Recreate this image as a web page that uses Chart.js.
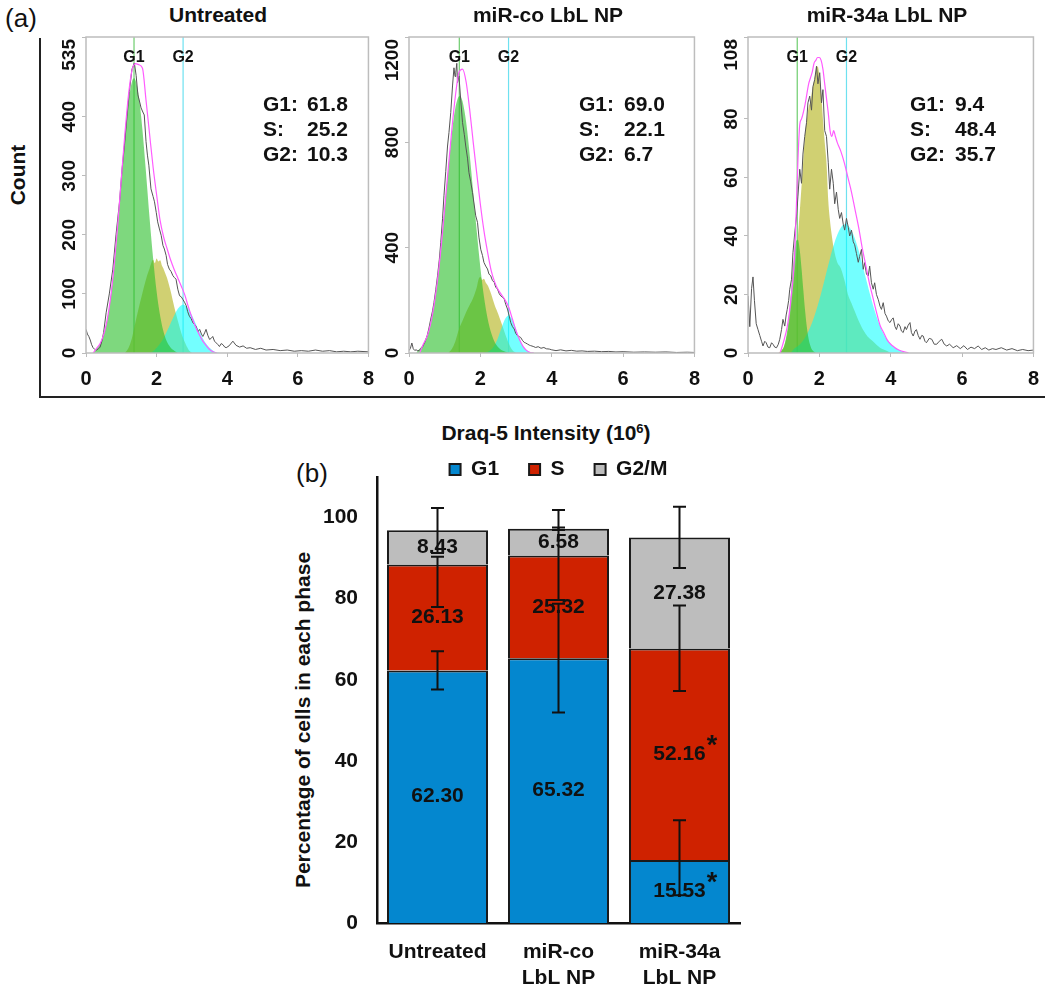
<!DOCTYPE html>
<html>
<head>
<meta charset="utf-8">
<script src="https://cdn.jsdelivr.net/npm/chart.js"></script>
<style>
  body { margin: 0; width: 1050px; height: 988px; background: #fff; position: relative; overflow: hidden;
         font-family: "Liberation Sans", Arial, sans-serif; color: #111; }
  canvas { position: absolute; }
  .t { position: absolute; white-space: nowrap; font-weight: bold; font-size: 21px; line-height: 1;
       transform: translate(-50%, -50%); }
  .rot { transform: translate(-50%, -50%) rotate(-90deg); }
  .panel { font-weight: normal; font-size: 26px; }
  .stats { position: absolute; font-weight: bold; font-size: 21px; line-height: 25px; white-space: nowrap; }
  #frameA { position: absolute; left: 39px; top: 38px; width: 1004px; height: 358px;
            border-left: 2px solid #222; border-bottom: 2px solid #222; }
</style>
</head>
<body>
<div id="frameA"></div>
<div class="t panel" style="left:21px;top:18px">(a)</div>
<div class="t rot" style="left:17px;top:175px">Count</div>
<div class="t" style="left:546px;top:432px">Draq-5 Intensity (10<sup style="font-size:13px;vertical-align:7px">6</sup>)</div>
<div class="t panel" style="left:312px;top:473px">(b)</div>
<div class="t rot" style="left:302px;top:720px">Percentage of cells in each phase</div>

<script>
Chart.defaults.font.family = '"Liberation Sans", Arial, sans-serif';
Chart.defaults.color = '#111';
Chart.defaults.animation = false;

// ---- panel (a): DNA content histograms, x in 10^6, y in counts ----
const histTitles = ['Untreated', 'miR-co LbL NP', 'miR-34a LbL NP'];
const histYMax = [535, 1200, 108];
const histYTicks = [[0, 100, 200, 300, 400, 535], [0, 400, 800, 1200], [0, 20, 40, 60, 80, 108]];
const histXTicks = [0, 2, 4, 6, 8];
const g1Marker = [1.36, 1.41, 1.38];
const g2Marker = [2.75, 2.79, 2.76];
const statG1 = ['61.8', '69.0', '9.4'];
const statS = ['25.2', '22.1', '48.4'];
const statG2 = ['10.3', '6.7', '35.7'];

const untreatedG1 = [[0.2,0],[0.3,8],[0.4,16],[0.5,31],[0.6,56],[0.7,95],[0.8,148],[0.9,215],[1.0,290],[1.1,363],[1.2,424],[1.3,459],[1.36,465],[1.4,462],[1.5,433],[1.6,377],[1.7,305],[1.8,229],[1.9,161],[2.0,104],[2.1,63],[2.2,35],[2.3,18],[2.4,9],[2.5,4],[2.6,0]];
const untreatedS = [[1.1,0],[1.2,8],[1.3,25],[1.4,52],[1.5,78],[1.6,102],[1.7,125],[1.8,143],[1.9,158],[1.95,152],[2.0,160],[2.05,155],[2.1,157],[2.15,148],[2.2,142],[2.25,134],[2.3,126],[2.4,104],[2.5,78],[2.6,55],[2.7,34],[2.8,18],[2.9,6],[3.0,0]];
const untreatedG2 = [[1.8,0],[1.9,3],[2.0,9],[2.1,16],[2.2,26],[2.3,38],[2.4,51],[2.5,64],[2.6,75],[2.7,81],[2.75,82],[2.8,81],[2.9,75],[3.0,64],[3.1,51],[3.2,38],[3.3,26],[3.4,16],[3.5,9],[3.6,4],[3.7,1],[3.8,0]];
const untreatedRaw = [[0,40],[0.04,32],[0.08,28],[0.12,22],[0.16,14],[0.2,9],[0.25,6],[0.3,5],[0.35,7],[0.4,10],[0.45,20],[0.5,35],[0.57,68],[0.66,100],[0.76,142],[0.85,200],[0.95,256],[1.02,310],[1.09,352],[1.16,400],[1.23,443],[1.3,480],[1.37,491],[1.42,470],[1.47,437],[1.52,425],[1.56,415],[1.61,408],[1.65,403],[1.7,358],[1.74,335],[1.78,318],[1.84,278],[1.9,265],[1.94,256],[1.99,238],[2.03,222],[2.08,210],[2.13,199],[2.18,182],[2.22,176],[2.27,165],[2.31,150],[2.36,142],[2.41,138],[2.46,131],[2.5,128],[2.55,125],[2.6,108],[2.65,97],[2.7,95],[2.74,91],[2.79,86],[2.84,80],[2.88,70],[2.93,62],[2.98,58],[3.03,51],[3.08,48],[3.12,45],[3.17,36],[3.22,40],[3.27,32],[3.31,28],[3.36,34],[3.4,40],[3.45,30],[3.5,23],[3.55,25],[3.59,28],[3.64,20],[3.69,17],[3.74,14],[3.78,11],[3.83,16],[3.88,14],[3.93,10],[3.97,9],[4.05,12],[4.16,20],[4.25,13],[4.35,10],[4.45,12],[4.55,8],[4.65,9],[4.8,6],[4.95,8],[5.1,5],[5.3,6],[5.5,4],[5.7,5],[5.9,3],[6.1,4],[6.3,3],[6.5,5],[6.7,3],[6.9,4],[7.1,2],[7.3,3],[7.5,2],[7.7,3],[8.0,2]];
const untreatedFit = [[0.2,0],[0.3,8],[0.4,16],[0.5,31],[0.6,56],[0.7,95],[0.8,150],[0.9,218],[1.0,295],[1.1,370],[1.2,435],[1.3,478],[1.4,490],[1.5,488],[1.6,482],[1.7,428],[1.8,371],[1.9,315],[2.0,268],[2.1,224],[2.2,196],[2.3,176],[2.4,157],[2.5,141],[2.6,127],[2.7,113],[2.8,98],[2.9,78],[3.0,60],[3.1,45],[3.2,32],[3.3,21],[3.4,13],[3.5,6],[3.6,2],[3.7,0]];

const mirCoG1 = [[0.2,0],[0.3,16],[0.4,33],[0.5,61],[0.6,108],[0.7,180],[0.8,278],[0.9,403],[1.0,549],[1.1,698],[1.2,833],[1.3,931],[1.42,976],[1.5,956],[1.6,878],[1.7,755],[1.8,609],[1.9,460],[2.0,325],[2.1,215],[2.2,133],[2.3,78],[2.4,42],[2.5,22],[2.6,10],[2.7,5],[2.8,0]];
const mirCoS = [[1.1,0],[1.2,15],[1.3,45],[1.4,90],[1.5,122],[1.6,155],[1.7,182],[1.8,210],[1.9,250],[1.95,280],[2.0,290],[2.05,278],[2.1,282],[2.15,268],[2.2,258],[2.3,225],[2.4,182],[2.5,148],[2.6,110],[2.7,70],[2.8,35],[2.9,10],[3.0,0]];
const mirCoG2 = [[2.1,0],[2.2,4],[2.3,12],[2.4,30],[2.5,60],[2.6,98],[2.7,131],[2.8,142],[2.9,125],[3.0,90],[3.1,53],[3.2,25],[3.3,10],[3.4,3],[3.5,0]];
const mirCoRaw = [[0,9],[0.04,18],[0.08,38],[0.12,16],[0.16,10],[0.2,12],[0.25,8],[0.3,12],[0.37,21],[0.44,40],[0.51,66],[0.56,95],[0.61,129],[0.66,160],[0.7,192],[0.75,240],[0.8,293],[0.85,355],[0.89,420],[0.94,510],[0.98,597],[1.03,690],[1.08,786],[1.12,837],[1.17,913],[1.22,1014],[1.26,1083],[1.29,1050],[1.31,1064],[1.34,1100],[1.36,1027],[1.4,1052],[1.45,960],[1.5,875],[1.55,830],[1.59,786],[1.64,740],[1.68,685],[1.73,650],[1.78,609],[1.82,570],[1.87,521],[1.92,496],[1.96,440],[2.01,394],[2.06,370],[2.1,344],[2.15,330],[2.2,319],[2.24,300],[2.29,293],[2.34,275],[2.39,268],[2.43,250],[2.48,243],[2.53,225],[2.57,217],[2.62,212],[2.67,205],[2.71,185],[2.76,167],[2.81,140],[2.85,116],[2.9,100],[2.95,91],[2.99,75],[3.04,66],[3.09,62],[3.13,59],[3.18,48],[3.23,40],[3.27,38],[3.32,34],[3.37,30],[3.41,28],[3.48,25],[3.55,21],[3.62,24],[3.7,18],[3.78,21],[3.85,16],[3.93,15],[4.0,12],[4.12,9],[4.25,12],[4.4,8],[4.55,10],[4.7,7],[4.85,8],[5.0,6],[5.2,7],[5.4,5],[5.6,6],[5.8,4],[6.0,5],[6.3,3],[6.6,4],[6.9,3],[7.2,4],[7.5,2],[7.8,3],[8.0,2]];
const mirCoFit = [[0.3,0],[0.4,33],[0.5,61],[0.6,108],[0.7,180],[0.8,278],[0.9,403],[1.0,549],[1.1,700],[1.2,848],[1.3,976],[1.4,1065],[1.5,1078],[1.6,1030],[1.7,925],[1.8,800],[1.9,680],[2.0,565],[2.1,465],[2.2,385],[2.3,315],[2.4,270],[2.5,240],[2.6,220],[2.7,200],[2.8,172],[2.9,128],[3.0,85],[3.1,50],[3.2,24],[3.3,9],[3.4,2],[3.5,0]];

const mir34aG1 = [[0.9,0],[0.95,1],[1.0,2],[1.05,4.2],[1.1,7.8],[1.15,13.2],[1.2,20],[1.25,27.6],[1.3,34.2],[1.35,38.3],[1.4,38.7],[1.45,35.3],[1.5,29],[1.55,21.6],[1.6,14.5],[1.65,8.8],[1.7,4.8],[1.75,2.4],[1.8,1],[1.9,0]];
const mir34aS = [[0.85,0],[0.9,0.5],[1.0,2],[1.1,6.5],[1.2,15],[1.3,27],[1.4,40],[1.5,57],[1.55,66],[1.6,75],[1.65,80],[1.7,84],[1.75,86],[1.8,90],[1.85,93],[1.9,96],[1.95,98],[2.0,95],[2.05,89],[2.1,80],[2.15,72],[2.2,65],[2.25,52],[2.3,45],[2.35,40],[2.4,36],[2.5,31],[2.6,29],[2.7,25],[2.8,20],[2.9,17],[3.0,14],[3.1,11],[3.2,8.5],[3.3,6.5],[3.4,5],[3.5,4],[3.6,2.8],[3.7,1.8],[3.8,1.2],[3.9,0.7],[4.0,0]];
const mir34aG2 = [[1.2,0],[1.3,1.5],[1.4,2.4],[1.5,3.6],[1.6,5.3],[1.7,7.6],[1.8,10.5],[1.9,14.1],[2.0,18.2],[2.1,22.8],[2.2,27.7],[2.3,32.4],[2.4,36.8],[2.5,40.3],[2.6,42.8],[2.7,44],[2.8,43.6],[2.9,41.9],[3.0,39],[3.1,35.1],[3.2,30.5],[3.3,25.7],[3.4,20.9],[3.5,16.5],[3.6,12.6],[3.7,9.3],[3.8,6.6],[3.9,4.6],[4.0,3.1],[4.1,2],[4.2,1.2],[4.3,0.7],[4.4,0]];
const mir34aRaw = [[0,19.5],[0.05,9],[0.1,22],[0.14,26],[0.18,18],[0.23,10],[0.28,8],[0.33,6],[0.38,4],[0.42,2.4],[0.47,4],[0.51,3.5],[0.56,2],[0.61,1.8],[0.66,3.5],[0.7,3],[0.75,2],[0.8,1.8],[0.85,3],[0.89,4.7],[0.94,8],[0.98,11.5],[1.03,9.2],[1.07,13],[1.1,14.9],[1.14,18],[1.17,21.8],[1.22,25.2],[1.26,34.3],[1.31,41],[1.36,46.8],[1.4,53.6],[1.45,62.8],[1.5,58],[1.54,68],[1.59,74],[1.64,78.7],[1.68,85.5],[1.73,87.8],[1.78,83],[1.82,91],[1.87,93.5],[1.92,98],[1.96,92],[2.01,95.8],[2.06,85.5],[2.1,90],[2.15,76],[2.2,74],[2.25,65],[2.29,56],[2.34,62.8],[2.39,58],[2.43,51],[2.48,55],[2.53,49],[2.57,46],[2.62,48],[2.67,44],[2.71,42],[2.76,46],[2.81,43],[2.85,40],[2.9,42],[2.95,38],[2.99,37],[3.04,34],[3.09,31],[3.13,33],[3.18,35.4],[3.23,28.6],[3.27,30.9],[3.32,27],[3.37,26.3],[3.41,29.7],[3.46,24],[3.51,21.8],[3.55,24],[3.6,20],[3.65,18.3],[3.7,16],[3.74,14.9],[3.79,17.2],[3.84,13.5],[3.88,12.6],[3.93,11],[3.98,10.4],[4.03,11.5],[4.07,12],[4.12,9],[4.16,8],[4.21,10],[4.26,9.2],[4.3,7.5],[4.35,7],[4.4,9],[4.44,8],[4.49,9.5],[4.54,10.4],[4.58,7],[4.63,5.8],[4.68,7.5],[4.72,8],[4.77,6],[4.82,4.7],[4.87,6],[4.91,5.8],[4.96,4],[5.0,3.5],[5.08,5],[5.15,4.7],[5.22,3],[5.29,3],[5.36,4],[5.43,4.7],[5.5,3],[5.57,2.4],[5.65,3],[5.75,1.8],[5.85,2.5],[5.95,1.5],[6.05,2.5],[6.15,1.2],[6.25,2],[6.35,1.5],[6.45,2.4],[6.55,1.2],[6.65,1.8],[6.75,1],[6.85,1.5],[6.95,1.2],[7.1,1.8],[7.25,1],[7.4,1.5],[7.55,0.8],[7.7,1.2],[7.85,0.8],[8.0,1]];
const mir34aFit = [[0.9,0],[1.0,4],[1.1,9],[1.2,18],[1.3,32],[1.35,48],[1.4,66],[1.45,78],[1.5,80],[1.6,85],[1.7,92],[1.75,94],[1.8,96],[1.85,99],[1.9,100],[1.95,101],[2.0,101],[2.05,100],[2.1,97],[2.15,92],[2.2,87],[2.25,82],[2.3,76],[2.35,74],[2.4,76],[2.45,74],[2.5,72],[2.6,69],[2.7,65],[2.8,60],[2.9,55],[3.0,49],[3.1,43],[3.2,36],[3.3,30],[3.4,24],[3.5,19],[3.6,14],[3.7,9.5],[3.8,7],[3.9,4.5],[4.0,3],[4.1,2],[4.2,1.2],[4.3,0.7],[4.5,0]];

// ---- panel (b): % of cells per phase, mean and error (up / down) ----
const groupLabels = [['Untreated'], ['miR-co', 'LbL NP'], ['miR-34a', 'LbL NP']];
const phaseNames = ['G1', 'S', 'G2/M'];
const g1Pct = [62.30, 65.32, 15.53];
const sPct = [26.13, 25.32, 52.16];
const g2mPct = [8.43, 6.58, 27.38];
const g1ErrUp = [4.7, 13.4, 9.8];
const g1ErrDown = [4.7, 13.4, 8.7];
const sErrUp = [1.9, 11.2, 10.6];
const sErrDown = [10.5, 11.0, 10.5];
const g2mErrUp = [5.5, 0.3, 7.6];
const g2mErrDown = [5.6, 0.3, 7.5];
const g1Sig = [false, false, true];
const sSig = [false, false, true];
const g2mSig = [false, false, false];

// layout of the three histogram plot areas
const plotLeft = [86, 409, 748];
const plotRight = [368, 694, 1033];
const titleX = [218, 548, 887];
const statLabelX = [263, 579, 910];
const statValueX = [307, 624, 955];

const pts = arr => arr.map(([x, y]) => ({x: x, y: y}));

function addText(html, cls, style) {
    const d = document.createElement('div');
    d.className = cls;
    d.setAttribute('style', style);
    d.innerHTML = html;
    document.body.appendChild(d);
}

const framePlugin = {
    id: 'frame',
    afterDraw(chart) {
        const a = chart.chartArea, ctx = chart.ctx;
        ctx.save();
        ctx.strokeStyle = '#bdbdbd';
        ctx.lineWidth = 1.5;
        ctx.strokeRect(a.left, a.top, a.right - a.left, a.bottom - a.top);
        ctx.restore();
    }
};

function markerPlugin(g1x, g2x) {
    return {
        id: 'markers',
        beforeDatasetsDraw(chart) {
            const a = chart.chartArea, ctx = chart.ctx, x = chart.scales.x;
            ctx.save();
            ctx.lineWidth = 1.2;
            ctx.strokeStyle = 'rgb(110,205,110)';
            ctx.beginPath();
            ctx.moveTo(x.getPixelForValue(g1x), a.top);
            ctx.lineTo(x.getPixelForValue(g1x), a.bottom);
            ctx.stroke();
            ctx.strokeStyle = 'rgb(110,225,240)';
            ctx.beginPath();
            ctx.moveTo(x.getPixelForValue(g2x), a.top);
            ctx.lineTo(x.getPixelForValue(g2x), a.bottom);
            ctx.stroke();
            ctx.restore();
        },
        afterDraw(chart) {
            const a = chart.chartArea, ctx = chart.ctx, x = chart.scales.x;
            ctx.save();
            ctx.font = 'bold 16px "Liberation Sans", Arial, sans-serif';
            ctx.fillStyle = '#111';
            ctx.textAlign = 'center';
            ctx.textBaseline = 'middle';
            ctx.fillText('G1', x.getPixelForValue(g1x), a.top + 21);
            ctx.fillText('G2', x.getPixelForValue(g2x), a.top + 21);
            ctx.restore();
        }
    };
}

const rotatedYTicks = {
    id: 'rotatedYTicks',
    afterDraw(chart) {
        const a = chart.chartArea, ctx = chart.ctx, y = chart.scales.y;
        ctx.save();
        ctx.font = 'bold 19px "Liberation Sans", Arial, sans-serif';
        ctx.fillStyle = '#111';
        ctx.textBaseline = 'middle';
        y.ticks.forEach(t => {
            const py = y.getPixelForValue(t.value);
            const label = String(t.value);
            const w = ctx.measureText(label).width;
            ctx.save();
            ctx.translate(a.left - 16, py);
            ctx.rotate(-Math.PI / 2);
            let tx = 0;
            ctx.textAlign = 'center';
            if (py - w / 2 < a.top) { ctx.textAlign = 'right'; tx = py - a.top - 2; }
            ctx.fillText(label, tx, 0);
            ctx.restore();
        });
        ctx.restore();
    }
};

function makeHist(i, g1, s, g2, raw, fit) {
    const cv = document.createElement('canvas');
    const left = plotLeft[i] - 40;
    // the x scale reserves half of the last tick label plus its padding on the right
    const width = plotRight[i] - left + 16;
    cv.width = width; cv.height = 360;
    cv.style.left = left + 'px'; cv.style.top = '33px';
    cv.style.width = width + 'px'; cv.style.height = '360px';
    document.body.appendChild(cv);

    const area = {pointRadius: 0, fill: 'origin', borderWidth: 0, cubicInterpolationMode: 'monotone'};
    new Chart(cv, {
        type: 'line',
        data: {
            datasets: [
                Object.assign({label: 'S', data: pts(s), backgroundColor: 'rgba(190,190,60,0.72)', order: 5}, area),
                Object.assign({label: 'G2', data: pts(g2), backgroundColor: 'rgba(0,255,255,0.55)', order: 4}, area),
                Object.assign({label: 'G1', data: pts(g1), backgroundColor: 'rgba(40,190,40,0.6)', order: 3}, area),
                {label: 'Count', data: pts(raw), borderColor: '#555', borderWidth: 1, pointRadius: 0, fill: false, order: 2},
                {label: 'Fit', data: pts(fit), borderColor: '#ff5cff', borderWidth: 1.2, pointRadius: 0, fill: false,
                 cubicInterpolationMode: 'monotone', order: 1}
            ]
        },
        options: {
            responsive: false,
            animation: false,
            layout: {padding: {top: 4, right: 0, left: 0, bottom: 0}},
            plugins: {legend: {display: false}, tooltip: {enabled: false}},
            scales: {
                x: {
                    type: 'linear', min: 0, max: 8,
                    afterBuildTicks: sc => { sc.ticks = histXTicks.map(v => ({value: v})); },
                    afterFit: sc => { sc.height = 40; },
                    grid: {drawOnChartArea: false, tickLength: 4, color: '#bbb'},
                    border: {display: false},
                    ticks: {font: {size: 20, weight: 'bold'}, color: '#111', padding: 10, maxRotation: 0}
                },
                y: {
                    min: 0, max: histYMax[i],
                    afterBuildTicks: sc => { sc.ticks = histYTicks[i].map(v => ({value: v})); },
                    afterFit: sc => { sc.width = 40; },
                    grid: {drawOnChartArea: false, tickLength: 4, color: '#bbb'},
                    border: {display: false},
                    ticks: {display: false}
                }
            }
        },
        plugins: [framePlugin, markerPlugin(g1Marker[i], g2Marker[i]), rotatedYTicks]
    });

    addText(histTitles[i], 't', 'left:' + titleX[i] + 'px;top:14px');
    addText('G1:<br>S:<br>G2:', 'stats', 'left:' + statLabelX[i] + 'px;top:91px');
    addText(statG1[i] + '<br>' + statS[i] + '<br>' + statG2[i], 'stats', 'left:' + statValueX[i] + 'px;top:91px');
}

makeHist(0, untreatedG1, untreatedS, untreatedG2, untreatedRaw, untreatedFit);
makeHist(1, mirCoG1, mirCoS, mirCoG2, mirCoRaw, mirCoFit);
makeHist(2, mir34aG1, mir34aS, mir34aG2, mir34aRaw, mir34aFit);

// ---- panel (b) ----
const phaseSeries = [
    {values: g1Pct, up: g1ErrUp, down: g1ErrDown, sig: g1Sig, color: '#0487cf'},
    {values: sPct, up: sErrUp, down: sErrDown, sig: sSig, color: '#cf2200'},
    {values: g2mPct, up: g2mErrUp, down: g2mErrDown, sig: g2mSig, color: '#bdbdbd'}
];

const legendHeight = {
    id: 'legendHeight',
    beforeInit(chart) {
        const fit = chart.legend.fit;
        chart.legend.fit = function () { fit.call(this); this.height = 48; };
    }
};

const barExtras = {
    id: 'barExtras',
    afterDatasetsDraw(chart) {
        const ctx = chart.ctx, y = chart.scales.y;
        const cum = [0, 0, 0];
        ctx.save();
        ctx.strokeStyle = '#111';
        ctx.lineWidth = 2;
        phaseSeries.forEach((ser, d) => {
            const meta = chart.getDatasetMeta(d);
            ser.values.forEach((v, j) => {
                cum[j] += v;
                const x = meta.data[j].x;
                const yHi = y.getPixelForValue(cum[j] + ser.up[j]);
                const yLo = y.getPixelForValue(cum[j] - ser.down[j]);
                ctx.beginPath();
                ctx.moveTo(x, yHi); ctx.lineTo(x, yLo);
                ctx.moveTo(x - 6.5, yHi); ctx.lineTo(x + 6.5, yHi);
                ctx.moveTo(x - 6.5, yLo); ctx.lineTo(x + 6.5, yLo);
                ctx.stroke();
            });
        });
        ctx.fillStyle = '#111';
        ctx.textBaseline = 'middle';
        phaseSeries.forEach((ser, d) => {
            const meta = chart.getDatasetMeta(d);
            ser.values.forEach((v, j) => {
                const el = meta.data[j];
                const cy = (el.y + el.base) / 2;
                const label = v.toFixed(2);
                ctx.font = 'bold 21px "Liberation Sans", Arial, sans-serif';
                ctx.textAlign = 'center';
                ctx.fillText(label, el.x, cy);
                if (ser.sig[j]) {
                    const w = ctx.measureText(label).width;
                    ctx.font = 'bold 27px "Liberation Sans", Arial, sans-serif';
                    ctx.textAlign = 'left';
                    ctx.fillText('*', el.x + w / 2 + 1, cy - 8);
                }
            });
        });
        ctx.restore();
    }
};

const bcv = document.createElement('canvas');
bcv.width = 465; bcv.height = 568;
bcv.style.left = '285px'; bcv.style.top = '420px';
bcv.style.width = '465px'; bcv.style.height = '568px';
document.body.appendChild(bcv);

new Chart(bcv, {
    type: 'bar',
    data: {
        labels: groupLabels,
        datasets: phaseSeries.map((ser, d) => ({
            label: phaseNames[d],
            data: ser.values,
            backgroundColor: ser.color,
            borderColor: '#1a1a1a',
            borderWidth: 2,
            borderSkipped: 'start',
            barPercentage: 0.835,
            categoryPercentage: 1
        }))
    },
    options: {
        responsive: false,
        animation: false,
        layout: {padding: {top: 9, right: 10, left: 0, bottom: 0}},
        plugins: {
            tooltip: {enabled: false},
            legend: {
                position: 'top',
                fullSize: false,
                labels: {boxWidth: 11, boxHeight: 11, padding: 30, color: '#111',
                         font: {size: 21, weight: 'bold'}}
            }
        },
        scales: {
            x: {
                stacked: true,
                grid: {display: false},
                border: {color: '#111', width: 2.5},
                afterFit: sc => { sc.height = 65; },
                ticks: {font: {size: 21, weight: 'bold'}, color: '#111', padding: 9, maxRotation: 0}
            },
            y: {
                stacked: true, min: 0, max: 110,
                grid: {display: false},
                border: {color: '#111', width: 2.5},
                afterFit: sc => { sc.width = 92; },
                ticks: {stepSize: 20, includeBounds: false, font: {size: 21, weight: 'bold'}, color: '#111', padding: 11}
            }
        }
    },
    plugins: [legendHeight, barExtras]
});
</script>
</body>
</html>
